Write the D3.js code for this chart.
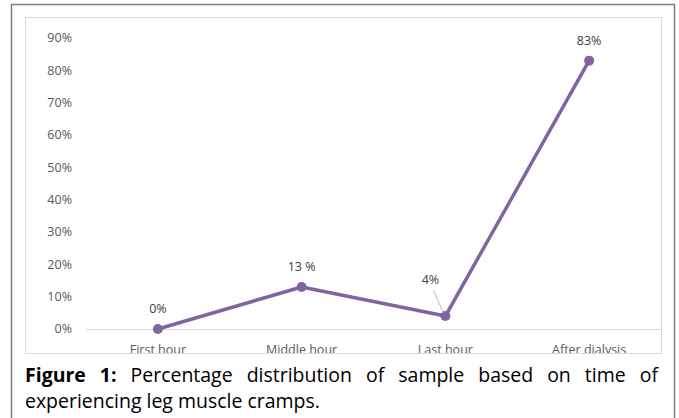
<!DOCTYPE html>
<html>
<head>
<meta charset="utf-8">
<script src="https://cdn.jsdelivr.net/npm/d3@7"></script>
<style>
  body { margin: 0; background: #fff; }
  svg { display: block; font-family: "Open Sans", sans-serif; }
</style>
</head>
<body>
<svg id="chart" width="679" height="418"></svg>
<script>
// chart data
var categories = ["First hour", "Middle hour", "Last hour", "After dialysis"];
var values = [0, 13, 4, 83];
var labels = ["0%", "13 %", "4%", "83%"];
var yTicks = [0, 10, 20, 30, 40, 50, 60, 70, 80, 90];
var captionBold = "Figure 1:";
var captionLine1 = "Percentage distribution of sample based on time of";
var captionLine2 = "experiencing leg muscle cramps.";

var svg = d3.select("#chart");
var purple = "#8064a2";

// outer frame
svg.append("path")
    .attr("d", "M11.5,418 V4.5 H674.5 V418")
    .attr("fill", "none")
    .attr("stroke", "#7f7f7f")
    .attr("stroke-width", 1.5);

// chart area box
svg.append("rect")
    .attr("x", 25.5).attr("y", 17.5)
    .attr("width", 636).attr("height", 336)
    .attr("fill", "#fff")
    .attr("stroke", "#d9d9d9");

var x = d3.scaleBand().domain(categories).range([86, 661]);
var y = d3.scaleLinear().domain([0, 90]).range([329, 38]);

svg.append("clipPath").attr("id", "plotclip")
    .append("rect").attr("x", 26).attr("y", 18).attr("width", 635).attr("height", 335);

var g = svg.append("g").attr("clip-path", "url(#plotclip)")
    .attr("font-family", "'Open Sans', sans-serif");

// y labels
g.selectAll(".ylab").data(yTicks).join("text")
    .attr("class", "ylab")
    .attr("x", 72)
    .attr("y", d => y(d))
    .attr("dy", "0.35em")
    .attr("text-anchor", "end")
    .attr("font-size", 12.5)
    .attr("fill", "#595959")
    .text(d => d + "%");

// x axis line
g.append("line")
    .attr("x1", 86).attr("x2", 661)
    .attr("y1", y(0) + 0.5).attr("y2", y(0) + 0.5)
    .attr("stroke", "#d9d9d9");

// x labels (cut by the chart box)
g.selectAll(".xlab").data(categories).join("text")
    .attr("class", "xlab")
    .attr("x", d => x(d) + x.bandwidth() / 2)
    .attr("y", 354)
    .attr("text-anchor", "middle")
    .attr("font-size", 12.5)
    .attr("fill", "#595959")
    .text(d => d);

var pts = categories.map((c, i) => [x(c) + x.bandwidth() / 2, y(values[i])]);

g.append("path")
    .attr("d", d3.line()(pts))
    .attr("fill", "none")
    .attr("stroke", purple)
    .attr("stroke-width", 3.5)
    .attr("stroke-linejoin", "round");

g.selectAll(".dot").data(pts).join("circle")
    .attr("cx", d => d[0]).attr("cy", d => d[1])
    .attr("r", 5)
    .attr("fill", purple);

// leader line for the 4% label
g.append("line")
    .attr("x1", pts[2][0] - 12).attr("y1", pts[2][1] - 26)
    .attr("x2", pts[2][0] - 2).attr("y2", pts[2][1] - 3)
    .attr("stroke", "#a6a6a6").attr("stroke-width", 0.8);

g.selectAll(".dlab").data(pts).join("text")
    .attr("class", "dlab")
    .attr("x", (d, i) => i == 2 ? d[0] - 15 : d[0])
    .attr("y", (d, i) => i == 2 ? d[1] - 32 : d[1] - 16)
    .attr("text-anchor", "middle")
    .attr("font-size", 12.5)
    .attr("fill", "#404040")
    .text((d, i) => labels[i]);

// caption: size picked so the second line is as wide as in the original,
// first line justified between the chart box edges
var left = 25, right = 658;
var cap = svg.append("g")
    .attr("font-family", "'Open Sans', sans-serif")
    .attr("fill", "#000");
var line2 = cap.append("text")
    .attr("x", left).attr("y", 408)
    .attr("font-size", 18)
    .text(captionLine2);
var fs = 18 * 295 / line2.node().getComputedTextLength();
line2.attr("font-size", fs);
var words = captionBold.split(" ").concat(captionLine1.split(" "));
var nodes = words.map((w, i) => cap.append("text")
    .attr("y", 382)
    .attr("font-size", fs)
    .attr("font-weight", i < 2 ? "bold" : "normal")
    .text(w));
var widths = nodes.map(n => n.node().getComputedTextLength());
var gap = (right - left - d3.sum(widths)) / (words.length - 1);
var cx = left;
nodes.forEach((n, i) => {
    n.attr("x", cx);
    cx += widths[i] + gap;
});
</script>
</body>
</html>
